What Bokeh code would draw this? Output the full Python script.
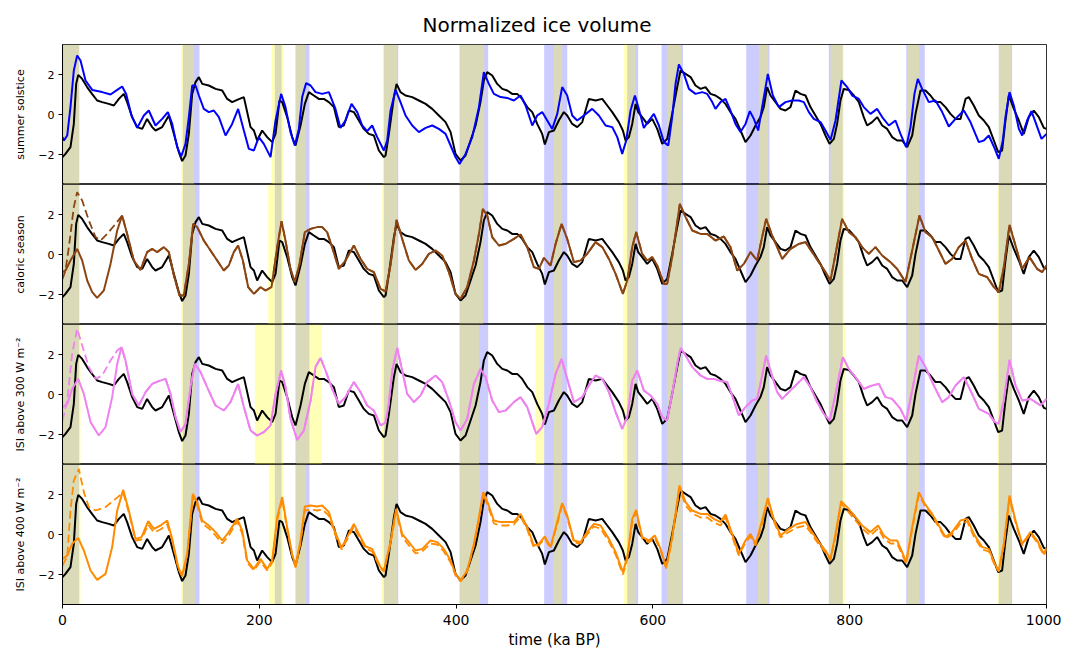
from bokeh.plotting import figure
from bokeh.layouts import column
from bokeh.models import CustomJSTickFormatter, FixedTicker, Range1d
from bokeh.embed import file_html
from bokeh.resources import INLINE

FONT = "DejaVu Sans"

# ---- data: (time ka BP, normalized value) ----
BLACK = [(0,-2.13),(3,-1.97),(8.1,-1.63),(11.5,-0.47),(13.9,1.53),(16,1.98),(20,1.78),(25,1.37),(30,1.03),(35.2,0.7),
 (40.3,0.62),(47,0.53),(52.2,0.45),(57.3,0.78),(62.3,1.03),(65.7,0.62),(70.8,-0.13),(75.9,-0.63),(81,-0.72),(86,-0.22),
 (91.1,-0.63),(94.5,-0.8),(101.3,-0.63),(108.1,-0.05),(113.2,-0.97),(118.2,-1.88),(121.6,-2.33),(125,-2.05),(128.4,-0.97),
 (131.8,1.03),(135.2,1.62),(138.6,1.87),(142,1.53),(148.7,1.45),(155.5,1.28),(162.3,1.2),(167.4,0.78),(172.4,0.62),
 (177.5,0.73),(184.3,0.87),(187.7,0.12),(191.1,-0.63),(194.5,-0.8),(197.8,-1.3),(202.9,-0.8),(208,-1.13),(213.1,-1.38),
 (216.5,-0.97),(220.5,0.7),(223.3,0.62),(228.3,-0.13),(233.4,-1.13),(236.8,-1.55),(241.9,-0.55),(246.3,0.53),(250.4,1.12),
 (255.4,0.95),(260.5,0.78),(265.6,0.78),(270.7,0.62),(275.8,0.37),(280.8,-0.63),(285.9,-0.55),(291,0.2),(296.1,0.12),
 (301.2,-0.3),(306.2,-0.72),(311.3,-0.97),(316.4,-1.05),(321.5,-1.8),(326.6,-2.13),(328.3,-2.05),(331.7,-0.97),(336.8,0.87),
 (339.5,1.53),(343.5,1.12),(348.6,0.95),(355.4,0.87),(362.2,0.7),(369,0.53),(375.7,0.28),(382.5,-0.05),(389.3,-0.38),
 (394.4,-0.88),(399.4,-1.97),(404.5,-2.3),(409.6,-2.05),(414.7,-1.3),(419.8,-0.55),(424.8,0.62),(428.2,1.7),(431.6,2.12),
 (436.7,1.95),(441.8,1.53),(446.9,1.28),(452,1.2),(457,1.03),(462.1,1.03),(467.2,0.78),(472.3,0.37),(477.4,0.12),
 (482.4,-0.47),(487.5,-0.97),(490.2,-1.5),(494.3,-0.88),(499.4,-0.8),(504.4,-0.3),(509.5,0.12),(512.9,-0.05),(518,-0.47),
 (523.1,-0.63),(528.2,-0.38),(534.9,0.78),(541.7,0.7),(548.5,0.78),(553.6,0.45),(558.7,0.12),(565.4,-0.38),(569.5,-0.8),
 (572.2,-1.3),(575.6,-1.13),(579,-0.47),(582.4,0.53),(585.1,0.12),(589.1,-0.13),(594.2,-0.47),(599.3,-0.22),(604.4,-0.72),
 (609.5,-1.47),(614.5,-1.22),(619.6,0.03),(624.7,1.37),(628.1,2.2),(633.2,2.03),(638.3,1.87),(643.3,1.45),(648.4,1.28),
 (653.5,1.37),(658.6,1.03),(663.6,0.95),(668.7,0.78),(673.8,0.53),(678.8,0.12),(683.9,-0.22),(689,-0.8),(694.1,-1.38),
 (699.2,-1.05),(704.3,-0.55),(709.3,-0.13),(712.7,0.37),(716.1,1.37),(719.5,0.95),(724.6,0.62),(729.7,0.28),(734.7,0.2),
 (739.8,0.37),(744.9,1.2),(750,1.03),(755.1,0.95),(760.1,0.37),(765.2,-0.05),(770.3,-0.47),(775.4,-1.05),(779.5,-1.47),
 (783.9,-1.22),(787.2,-0.47),(790.6,0.7),(794,1.28),(799.1,1.23),(804.2,0.95),(809.3,0.62),(814.3,-0.13),(817.7,-0.55),
 (822.8,-0.38),(827.9,-0.13),(833,-0.55),(838.1,-0.72),(843.1,-1.13),(848.2,-1.3),(853.3,-1.3),(858.4,-1.63),(863.5,-1.05),
 (866.9,0.03),(871.9,1.2),(877,1.2),(882.1,0.95),(887.2,0.62),(892.3,0.62),(897.3,0.37),(902.4,0.03),(907.5,-0.22),
 (912.6,-0.22),(917.7,0.78),(921,0.87),(926.1,0.45),(931.2,-0.05),(936.3,-0.3),(941.4,-0.63),(946.5,-1.3),(950.9,-1.88),
 (954.9,-1.8),(958.3,-0.3),(961.7,0.95),(966.8,0.28),(971.9,-0.3),(976.9,-0.97),(982,-0.13),(987.1,0.2),(992.2,-0.13),
 (997.3,-0.67),(1000,-0.72)]

SUMMER = [(0,-1.13),(1.4,-1.3),(4.8,-1.05),(8.1,0.37),(11.5,2.2),(14.9,2.95),(18.3,2.7),(23.4,1.7),(30.2,1.23),(40.3,1.12),
 (48.8,1.0),(55.6,1.23),(60.6,1.4),(64.7,1.03),(70.1,-0.05),(75.9,-0.67),(82.7,-0.05),(87.7,0.2),(94.5,-0.55),(101.3,-0.22),
 (107.1,0.12),(111.5,-0.47),(116.5,-1.63),(120.6,-2.1),(125,-1.47),(128.4,-0.13),(131.8,1.45),(135.2,1.45),(138.6,0.95),
 (143.6,0.28),(148.7,0.12),(153.8,0.2),(158.9,-0.13),(165.7,-1.05),(172.4,-0.47),(178.5,0.28),(184.3,-0.8),(189.4,-1.72),
 (194.5,-1.8),(199.5,-1.13),(204.6,-1.47),(211.4,-2.13),(216.5,-0.3),(222.2,1.03),(226.6,0.37),(231.7,-0.88),(236.1,-1.55),
 (240.2,-0.72),(243.6,0.87),(247.6,1.57),(252.1,1.45),(257.1,1.12),(263.9,1.03),(270.7,1.12),(277.4,0.28),(282.5,-0.67),
 (287.6,-0.3),(293.7,0.53),(299.5,0.12),(304.6,-0.55),(309.6,-0.83),(314.7,-0.55),(319.8,-1.13),(326.6,-1.8),(330,-1.3),
 (333.4,0.2),(338.5,1.23),(343.5,0.62),(348.6,-0.05),(355.4,-0.55),(362.2,-0.88),(369,-0.67),(375.7,-0.55),(382.5,-0.72),
 (389.3,-0.97),(394.4,-1.55),(399.4,-2.13),(403.5,-2.47),(409.6,-1.97),(416.4,-1.13),(423.2,0.37),(428.2,2.12),(433.3,1.53),
 (438.4,1.03),(445.2,0.87),(451.9,0.83),(458.7,0.7),(465.5,0.95),(470.6,0.45),(477.4,-0.55),(482.4,-0.05),(487.5,0.12),
 (492.6,-0.3),(497.7,-0.72),(502.8,0.03),(507.8,1.37),(512.9,0.95),(518,-0.05),(523.1,-0.3),(529.9,-0.05),(538.3,0.28),
 (545.1,-0.05),(551.9,-0.55),(558.7,-0.63),(563.8,-1.13),(568.8,-1.97),(572.9,-1.3),(577.3,0.2),(581.7,0.95),(585.7,0.28),
 (590.8,-0.67),(595.9,-0.3),(601,0.03),(606.1,-0.55),(611.2,-1.38),(615.6,-1.55),(619.6,-0.13),(623,1.53),(626.4,2.5),
 (631.5,2.03),(636.6,1.28),(643.3,1.03),(650.1,1.12),(655.2,1.03),(660.3,0.62),(663.6,0.28),(668.7,0.62),(673.8,0.78),
 (678.8,0.2),(683.9,-0.47),(689,-0.88),(694.1,-0.47),(698.5,0.17),(702.6,-0.22),(707,-0.8),(711,0.37),(716.8,2.03),
 (721.9,0.95),(728,0.37),(734.7,0.62),(741.5,0.7),(748.3,0.7),(753.4,0.62),(758.5,0.12),(763.5,-0.22),(770.3,-0.38),
 (775.4,-0.8),(780.5,-1.27),(785.6,-0.3),(791.6,1.7),(797.4,1.37),(802.5,0.95),(809.3,0.78),(814.3,0.37),(821.1,0.03),
 (827.9,0.28),(833,-0.13),(839.8,-0.55),(846.5,-0.3),(851.6,-0.97),(857.4,-1.63),(861.8,-0.63),(865.8,1.03),(869.2,1.78),
 (873.6,1.28),(880.4,0.62),(887.2,0.7),(894,0.12),(900.7,-0.6),(907.5,-0.22),(916,0.2),(922.7,-0.38),(931.2,-1.38),
 (936.3,-1.3),(941.4,-1.05),(947.5,-1.72),(951.5,-2.22),(955.6,-1.3),(958.3,-0.13),(962.4,1.12),(966.8,0.45),(971.9,-0.72),
 (975.3,-1.05),(980.3,-0.3),(984.7,0.17),(988.8,-0.38),(994.9,-1.22),(1000,-0.97)]

CALORIC = [(0,-0.88),(3,-0.8),(8.1,-0.3),(14.9,0.28),(20,-0.3),(25.1,-1.3),(30.2,-1.88),(35.2,-2.17),(42,-1.8),(48.8,-0.47),
 (55.6,1.2),(60.6,1.95),(65.7,1.03),(72.5,-0.3),(79.3,-0.77),(86,0.12),(91.1,0.28),(96.2,0.12),(103,0.37),(108.1,0.12),
 (113.2,-1.05),(118.9,-2.05),(123.3,-2.05),(128.4,-0.47),(132.8,1.53),(136.9,1.37),(143.6,0.7),(150.4,0.2),(157.2,-0.3),
 (163.9,-0.8),(169,-0.55),(174.1,0.12),(178.5,0.45),(183.3,-0.3),(188.7,-1.63),(194.5,-1.97),(201.2,-1.63),(206.3,-1.8),
 (212.4,-1.63),(218.2,0.37),(222.6,1.67),(226.6,0.7),(231.7,-0.72),(236.1,-1.38),(240.9,-0.47),(246.3,1.12),(252.1,1.28),
 (258.8,1.37),(263.9,1.37),(268.9,1.12),(274,0.37),(280.8,-0.72),(287.6,-0.3),(296.1,0.45),(302.9,-0.22),(309.6,-0.72),
 (316.4,-0.88),(323.2,-1.72),(328.3,-1.85),(333.4,-0.5),(339.5,1.73),(345.2,0.78),(352,-0.3),(358.8,-0.77),(365.6,-0.47),
 (372.3,0.03),(379.1,0.2),(385.9,-0.05),(392.7,-0.88),(399.4,-1.97),(404.5,-2.22),(411.3,-1.63),(418.1,-0.3),(423.2,1.03),
 (427.2,2.28),(431.6,1.95),(436.7,0.87),(443.5,0.45),(450.3,0.53),(458.7,0.78),(465.5,1.0),(472.3,0.37),(479,-0.63),
 (484.1,-0.72),(489.2,-0.17),(496,-0.55),(501.1,0.53),(507.2,1.53),(512.9,0.78),(519.7,-0.38),(526.5,-0.3),(533.2,0.03),
 (541.7,0.62),(548.5,0.37),(555.3,-0.22),(562.1,-0.97),(569.5,-1.97),(573.9,-1.3),(579,0.37),(583,1.12),(589.1,0.03),
 (594.2,-0.3),(599.3,-0.13),(604.4,-0.55),(611.2,-1.47),(614.5,-1.47),(619.6,-0.13),(627.4,2.53),(633.2,1.87),(640,1.2),
 (648.4,1.03),(655.2,1.03),(663.6,0.7),(672.1,0.9),(678.8,0.37),(685.6,-0.8),(692.4,-0.47),(699.2,0.12),(705.9,-0.3),
 (711,0.87),(715.1,1.78),(721.2,0.95),(731.4,-0.22),(739.8,0.28),(748.3,0.53),(755.1,0.62),(761.8,0.12),(768.6,-0.38),
 (775.4,-0.88),(780.5,-1.3),(785.6,0.03),(792.3,1.78),(799.1,1.12),(805.9,0.87),(812.6,0.37),(819.4,0.03),(826.2,0.37),
 (833,-0.05),(841.4,-0.38),(848.2,-0.72),(856.7,-1.38),(863.5,0.2),(870.9,1.95),(877,1.12),(883.8,0.87),(890.6,0.2),
 (897.3,-0.47),(904.1,-0.22),(910.9,0.37),(917.7,0.7),(924.4,-0.22),(931.2,-0.97),(939.7,-1.13),(946.5,-1.63),(951.5,-1.88),
 (956.6,-0.63),(962.4,1.48),(968.5,0.45),(975.3,-0.72),(982.7,-0.13),(990.5,-0.72),(995.6,-0.88),(1000,-0.55)]
CALORIC_DASH_START = [(0,-1.22),(3,-0.8),(6.5,0.37),(11.5,2.37),(14.9,3.12),(20,2.7),(26.8,1.7),(33.6,0.87),(38.6,0.7),
 (45.4,1.03),(53.9,1.53),(60.6,1.95)]

ISI300 = [(0,-0.63),(4.8,-0.47),(9.8,0.28),(15.9,0.78),(21.7,0.03),(28.5,-1.38),(36.9,-2.05),(43.7,-1.63),(50.5,-0.13),
 (55.6,1.53),(60,2.37),(64,1.7),(70.8,0.03),(77.6,-0.55),(84.4,0.12),(91.1,0.53),(97.9,0.67),(104.7,0.78),(109.8,0.03),
 (114.9,-1.13),(120,-1.88),(125,-1.47),(130.1,0.37),(134.5,1.53),(140.3,1.12),(147,0.37),(155.5,-0.55),(164,-0.8),
 (170.7,-0.38),(178.5,0.53),(184.3,-0.63),(191.1,-1.8),(197.8,-2.05),(204.6,-1.88),(211.4,-1.55),(216.5,0.03),(222.2,1.2),
 (226.6,0.37),(231.7,-1.22),(238.5,-2.27),(245.3,-1.8),(252.1,-0.3),(257.1,1.37),(262.2,1.83),(267.3,1.2),(274,0.28),
 (280.8,-0.47),(287.6,-0.13),(296.1,0.62),(302.9,0.12),(309.6,-0.55),(316.4,-0.8),(323.2,-1.55),(328.3,-1.4),(331.5,-0.5),
 (335.1,1.2),(340.2,2.33),(345.2,1.2),(350.3,0.03),(357.1,-0.38),(363.9,-0.05),(370.6,0.62),(379.1,0.95),(385.9,0.62),
 (392.7,-0.3),(399.4,-1.38),(404.5,-1.8),(411.3,-1.22),(418.1,0.53),(424.8,1.28),(429.9,0.87),(436.7,-0.3),(443.5,-0.88),
 (450.3,-0.8),(458.7,-0.38),(465.5,-0.13),(472.3,-0.63),(477.4,-1.38),(481.4,-1.97),(487.5,-1.63),(494.3,-0.47),(501.1,1.03),
 (507.2,1.78),(512.9,0.78),(519.7,-0.38),(528.2,-0.13),(534.9,0.45),(541.7,0.95),(548.5,0.78),(555.3,0.12),(562.1,-0.88),
 (568.8,-1.72),(573.9,-1.13),(579,0.7),(584.1,1.2),(590.8,0.2),(597.6,-0.05),(604.4,-0.47),(609.5,-1.13),(614.5,-1.3),
 (619.6,0.03),(624.7,1.53),(628.1,2.33),(633.2,1.95),(640,1.37),(648.4,0.95),(655.2,0.78),(662,0.78),(668.7,0.67),
 (675.5,0.62),(680.5,-0.05),(687.3,-1.05),(694.1,-0.63),(700.9,-0.3),(705.9,-0.22),(711,0.95),(715.1,1.95),(720.5,1.03),
 (726.3,0.12),(731.4,-0.22),(738.1,0.12),(746.6,0.53),(753.4,0.87),(760.1,0.37),(766.9,-0.38),(773.7,-0.97),(779.8,-1.3),
 (785.6,0.03),(793,1.87),(799.1,1.28),(805.9,0.87),(814.3,0.28),(822.8,0.45),(829.6,0.53),(836.4,-0.13),(843.1,-0.22),
 (851.6,-0.72),(857.4,-1.3),(863.5,0.2),(870.3,1.95),(877,1.37),(885.5,0.45),(894,-0.38),(900.7,-0.13),(907.5,0.45),
 (916,0.87),(924.4,0.03),(931.2,-0.72),(941.4,-0.97),(947.5,-1.38),(951.5,-1.47),(956.6,-0.3),(962.4,1.73),(968.5,0.45),
 (975.3,-0.3),(983.8,-0.22),(993.9,-0.55),(1000,-0.22)]
ISI300_DASH_START = [(0,-1.3),(4.8,-0.3),(9.8,2.03),(14.9,3.28),(20,2.45),(26.8,1.37),(33.6,0.78),(40.3,0.95),(48.8,1.7),
 (55.6,2.2),(60,2.37)]

ISI400 = [(0,-1.22),(4.8,-1.05),(9.8,-0.47),(15.9,-0.17),(21.7,-0.8),(28.5,-1.8),(35.2,-2.27),(43.7,-1.97),(50.5,-0.63),
 (55.6,1.2),(61.7,2.23),(67.4,1.2),(74.2,-0.22),(80.3,-0.13),(87.1,0.67),(92.8,0.28),(99.6,0.45),(106.4,0.7),(111.5,-0.22),
 (117.6,-1.63),(121.6,-2.05),(126.7,-0.97),(132.5,2.03),(136.9,1.62),(142,0.7),(148.7,0.45),(155.5,0.12),(162.3,-0.3),
 (169,0.12),(177.5,0.78),(182.6,0.2),(187.7,-1.3),(194.5,-1.72),(201.2,-1.22),(208,-1.72),(213.1,-1.3),(218.2,0.87),
 (223.3,1.87),(228.3,0.37),(233.4,-0.97),(236.8,-1.6),(241.9,-0.3),(246.3,1.4),(252.1,1.45),(258.8,1.4),(263.9,1.45),
 (270.7,1.12),(275.8,0.28),(283.6,-0.67),(289.3,-0.13),(296.1,0.53),(301.2,0.03),(308,-0.6),(314.7,-0.72),(323.2,-1.63),
 (326.6,-1.8),(333.4,-0.35),(339.1,1.28),(345.2,0.03),(352,-0.38),(358.8,-0.8),(365.6,-0.72),(374,-0.3),(380.8,-0.38),
 (387.6,-0.72),(394.4,-1.3),(399.4,-1.97),(404.5,-2.3),(411.3,-1.8),(418.1,-0.47),(423.2,0.87),(427.6,2.12),(432.6,1.53),
 (438.4,0.7),(445.2,0.62),(451.9,0.62),(458.7,0.62),(465.5,1.03),(472.3,0.37),(479,-0.55),(484.1,-0.47),(490.2,-0.1),
 (496,-0.63),(501.8,0.45),(507.8,1.57),(512.9,0.95),(519.7,-0.3),(526.5,-0.38),(533.2,0.12),(540,0.53),(546.8,0.45),
 (555.3,-0.22),(562.1,-0.88),(569.5,-1.88),(573.9,-1.13),(579,0.78),(583,1.23),(589.1,-0.13),(595.9,-0.3),(601.9,-0.05),
 (607.8,-0.72),(613.5,-1.63),(619.6,-0.13),(627,2.45),(633.2,1.62),(640,1.2),(648.4,1.03),(655.2,1.03),(662,0.78),
 (668.7,0.62),(673.8,1.0),(680.5,0.03),(687.3,-0.97),(694.1,-0.3),(699.2,0.03),(704.3,-0.47),(711,0.7),(716.8,1.83),
 (722.9,0.78),(729.7,-0.05),(738.1,0.28),(746.6,0.53),(755.1,0.62),(761.8,0.12),(768.6,-0.38),(775.4,-0.8),(780.5,-1.22),
 (785.6,0.03),(791.3,1.67),(797.4,1.37),(805.9,0.87),(812.6,0.45),(821.1,0.12),(828.9,0.45),(834.7,-0.05),(841.4,-0.3),
 (848.2,-0.3),(853.3,-0.88),(857.4,-1.38),(863.5,0.37),(870.3,2.12),(876.3,1.53),(883.8,1.03),(890.6,0.45),(897.3,-0.13),
 (904.1,0.12),(912.6,0.7),(919.4,0.78),(926.1,0.03),(934.6,-0.63),(941.4,-0.72),(947.5,-1.47),(951.5,-1.8),(956.6,-0.47),
 (962.4,1.95),(968.5,0.7),(975.3,-0.47),(983.8,0.12),(990.5,-0.3),(997.3,-0.97),(1000,-0.67)]
ISI400_DASH = [(0,-1.55),(4.8,-1.1),(8.1,1.2),(11.5,2.7),(16.6,3.28),(21.7,2.12),(26.8,1.37),(33.6,1.2),(43.7,1.37),
 (53.9,1.78),(61.7,2.1),(67.4,1.1),(74.2,-0.3),(80.3,-0.25),(87.1,0.5),(92.8,0.1),(99.6,0.25),(106.4,0.5),(111.5,-0.3),
 (117.6,-1.7),(121.6,-2.1),(126.7,-1.0),(132.5,1.9),(136.9,1.45),(142,0.55),(148.7,0.3),(155.5,-0.05),(162.3,-0.45),
 (169,-0.05),(177.5,0.65),(182.6,0.05),(187.7,-1.4),(194.5,-1.8),(201.2,-1.35),(208,-1.8),(213.1,-1.4),(218.2,0.7),
 (223.3,1.75),(228.3,0.25),(233.4,-1.05),(236.8,-1.65),(241.9,-0.4),(246.3,1.2),(252.1,1.25),(258.8,1.2),(263.9,1.25),
 (270.7,0.95),(275.8,0.15),(283.6,-0.75),(289.3,-0.25),(296.1,0.4),(301.2,-0.1),(308,-0.7),(314.7,-0.85),(323.2,-1.7),
 (326.6,-1.85),(333.4,-0.45),(339.1,1.15),(345.2,-0.1),(352,-0.55),(358.8,-0.95),(365.6,-0.85),(374,-0.45),(380.8,-0.5),
 (387.6,-0.85),(394.4,-1.4),(399.4,-2.05),(404.5,-2.35),(411.3,-1.85),(418.1,-0.55),(423.2,0.75),(427.6,2.0),(432.6,1.4),
 (438.4,0.55),(445.2,0.45),(451.9,0.45),(458.7,0.5),(465.5,0.9),(472.3,0.25),(479,-0.65),(484.1,-0.55),(490.2,-0.2),
 (496,-0.7),(501.8,0.35),(507.8,1.45),(512.9,0.85),(519.7,-0.4),(526.5,-0.45),(533.2,0.0),(540,0.4),(546.8,0.3),
 (555.3,-0.35),(562.1,-1.0),(569.5,-2.0),(573.9,-1.25),(579,0.6),(583,1.1),(589.1,-0.2),(595.9,-0.4),(601.9,-0.15),
 (607.8,-0.8),(613.5,-1.7),(619.6,-0.25),(627,2.3),(633.2,1.45),(640,1.05),(648.4,0.85),(655.2,0.85),(662,0.6),
 (668.7,0.45),(673.8,0.85),(680.5,-0.1),(687.3,-1.05),(694.1,-0.4),(699.2,-0.1),(704.3,-0.55),(711,0.55),(716.8,1.7),
 (722.9,0.65),(729.7,-0.15),(738.1,0.12),(746.6,0.35),(755.1,0.45),(761.8,0.0),(768.6,-0.5),(775.4,-0.9),(780.5,-1.3),
 (785.6,-0.1),(791.3,1.55),(797.4,1.2),(805.9,0.7),(812.6,0.3),(821.1,-0.05),(828.9,0.3),(834.7,-0.2),(841.4,-0.45),
 (848.2,-0.45),(853.3,-1.0),(857.4,-1.45),(863.5,0.25),(870.3,2.0),(876.3,1.45),(883.8,0.95),(890.6,0.35),(897.3,-0.2),
 (904.1,0.0),(912.6,0.55),(919.4,0.65),(926.1,-0.1),(934.6,-0.75),(941.4,-0.85),(947.5,-1.55),(951.5,-1.85),(956.6,-0.55),
 (962.4,1.8),(968.5,0.6),(975.3,-0.55),(983.8,0.05),(990.5,-0.4),(997.3,-1.05),(1000,-0.75)]

# terminations (start, end) in ka BP
DATA_BANDS = [(0,17),(122.3,139.2),(215.8,222.6),(236.8,251),(326.5,341.2),(403.5,432.6),(489.5,513),(573.9,585),
 (608.8,630.5),(694.8,718.5),(778.8,793),(857.4,876.3),(951.5,965)]
SUMMER_BANDS = [(1.4,17.3),(120.6,133.5),(212.4,224.3),(236.8,247),(325.5,340.2),(403.5,428.6),(499.4,507.8),(570.5,582.4),
 (614.5,629.1),(707.6,717.1),(780.5,794),(858.4,870.9),(951.5,964.4)]
CALORIC_BANDS = [(1.4,17.3),(120.6,134.5),(209,224.3),(236.8,247.6),(324.9,340.2),(403.5,427.6),(499.4,507.8),(569.5,583),
 (614.5,629.1),(707,717.8),(779.5,794.5),(859,870.9),(950,964.4)]
ISI300_BANDS = [(1.4,18.3),(120.6,134.5),(195.5,224.5),(237.5,263.5),(324.2,340.5),(403.5,423.2),(480.7,489.5),(499.4,507.8),
 (569.5,583),(614.5,629.1),(705,717.1),(779.5,795.7),(859,870.9),(950,964.4)]
ISI400_BANDS = [(1.4,18.3),(120.6,134.5),(209.7,224.3),(236.8,247.6),(324.2,340.2),(403.5,424.2),(498.7,507.8),(570.5,583),
 (614.5,629.8),(706.6,717.1),(779.5,795),(859,870.9),(950.5,964.4)]

Y_TICKS = [-2, 0, 2]
X_TICKS = [0, 200, 400, 600, 800, 1000]
YMIN, YMAX = -3.5, 3.5


def unzip(pairs):
    return [a for a, _ in pairs], [b for _, b in pairs]


def joined(start, rest):
    last = start[-1][0]
    return start + [pt for pt in rest if pt[0] > last]


PANELS = [
    ("summer solstice", "#0000ff", SUMMER, None, SUMMER_BANDS),
    ("caloric season", "#8b4513", CALORIC, joined(CALORIC_DASH_START, CALORIC), CALORIC_BANDS),
    ("ISI above 300 W m\u207b\u00b2", "#ee82ee", ISI300, joined(ISI300_DASH_START, ISI300), ISI300_BANDS),
    ("ISI above 400 W m\u207b\u00b2", "#ff8c00", ISI400, ISI400_DASH, ISI400_BANDS),
]

xr = Range1d(0, 1000)
minus_fmt = CustomJSTickFormatter(code="return tick < 0 ? '\\u2212' + Math.abs(tick) : String(tick);")

figs = []
for i, (label, color, solid, dashed, ybands) in enumerate(PANELS):
    top = i == 0
    bottom = i == len(PANELS) - 1
    p = figure(x_range=xr, y_range=Range1d(YMIN, YMAX), frame_width=984, frame_height=140,
               output_backend="svg", toolbar_location=None,
               min_border_left=62, min_border_right=15,
               min_border_top=44 if top else 0, min_border_bottom=44 if bottom else 0,
               title="Normalized ice volume" if top else None)
    p.grid.visible = False
    p.outline_line_color = "black"
    p.outline_line_alpha = 1.0
    p.outline_line_width = 0.8
    p.background_fill_color = "white"
    p.border_fill_color = "white"
    if top:
        p.title.align = "left"
        p.title.text_font = FONT
        p.title.text_font_size = "20px"
        p.title.text_font_style = "normal"
        p.title.text_color = "black"
        p.title.offset = 360
        p.title.standoff = 16

    # bands: data terminations (blue) then model terminations (yellow)
    bl, br = unzip(DATA_BANDS)
    p.quad(left=bl, right=br, bottom=YMIN, top=YMAX, fill_color="#0000ff", fill_alpha=0.2, line_alpha=0)
    yl, yr = unzip(ybands)
    p.quad(left=yl, right=yr, bottom=YMIN, top=YMAX, fill_color="#ffff00", fill_alpha=0.28, line_alpha=0)

    kx, kv = unzip(BLACK)
    p.line(kx, kv, line_color="black", line_width=2)
    if dashed is not None:
        dx, dv = unzip(dashed)
        p.line(dx, dv, line_color=color, line_width=1.8, line_dash="8 4")
    sx, sv = unzip(solid)
    p.line(sx, sv, line_color=color, line_width=2)

    ya = p.yaxis[0]
    ya.ticker = FixedTicker(ticks=Y_TICKS)
    ya.formatter = minus_fmt
    ya.axis_label = label
    ya.axis_label_text_font = FONT
    ya.axis_label_text_font_size = "11px"
    ya.axis_label_text_font_style = "normal"
    ya.axis_label_text_color = "black"
    ya.axis_label_standoff = 8
    ya.major_label_text_font = FONT
    ya.major_label_text_font_size = "11px"
    ya.major_label_text_color = "black"
    ya.major_label_standoff = 4
    ya.major_tick_in = 0
    ya.major_tick_out = 4
    ya.minor_tick_line_color = None
    ya.axis_line_color = "black"
    ya.major_tick_line_color = "black"

    xa = p.xaxis[0]
    if bottom:
        xa.ticker = FixedTicker(ticks=X_TICKS)
        xa.axis_label = "time (ka BP)"
        xa.axis_label_text_font = FONT
        xa.axis_label_text_font_size = "15px"
        xa.axis_label_text_font_style = "normal"
        xa.axis_label_text_color = "black"
        xa.axis_label_standoff = 3
        xa.major_label_text_font = FONT
        xa.major_label_text_font_size = "14px"
        xa.major_label_text_color = "black"
        xa.major_label_standoff = 6
        xa.major_tick_in = 0
        xa.major_tick_out = 4
        xa.minor_tick_line_color = None
        xa.major_tick_line_color = "black"
    else:
        xa.visible = False
    figs.append(p)

layout = column(*figs, spacing=0)
open("out.html", "w").write(file_html(layout, INLINE))
